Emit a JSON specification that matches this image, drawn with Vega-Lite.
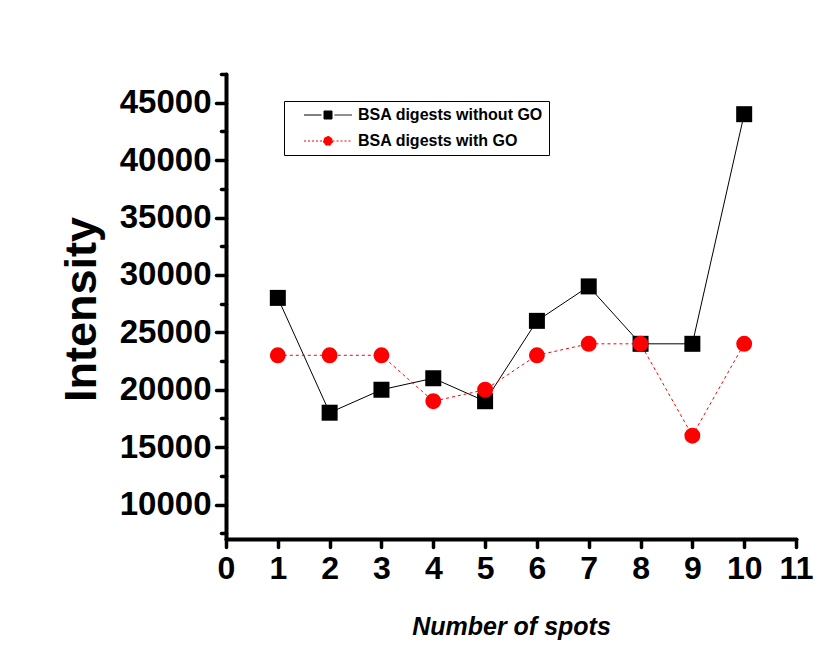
{
  "$schema": "https://vega.github.io/schema/vega-lite/v6.json",
  "autosize": {"type": "none"},
  "width": 570,
  "height": 465,
  "padding": {"left": 226, "top": 74, "right": 34, "bottom": 109},
  "background": "white",
  "config": {
    "view": {"stroke": null},
    "font": "Liberation Sans"
  },
  "data": {
    "values": [
      {"spot": 1, "intensity": 28000, "series": "BSA digests without GO"},
      {"spot": 2, "intensity": 18000, "series": "BSA digests without GO"},
      {"spot": 3, "intensity": 20000, "series": "BSA digests without GO"},
      {"spot": 4, "intensity": 21000, "series": "BSA digests without GO"},
      {"spot": 5, "intensity": 19000, "series": "BSA digests without GO"},
      {"spot": 6, "intensity": 26000, "series": "BSA digests without GO"},
      {"spot": 7, "intensity": 29000, "series": "BSA digests without GO"},
      {"spot": 8, "intensity": 24000, "series": "BSA digests without GO"},
      {"spot": 9, "intensity": 24000, "series": "BSA digests without GO"},
      {"spot": 10, "intensity": 44000, "series": "BSA digests without GO"},
      {"spot": 1, "intensity": 23000, "series": "BSA digests with GO"},
      {"spot": 2, "intensity": 23000, "series": "BSA digests with GO"},
      {"spot": 3, "intensity": 23000, "series": "BSA digests with GO"},
      {"spot": 4, "intensity": 19000, "series": "BSA digests with GO"},
      {"spot": 5, "intensity": 20000, "series": "BSA digests with GO"},
      {"spot": 6, "intensity": 23000, "series": "BSA digests with GO"},
      {"spot": 7, "intensity": 24000, "series": "BSA digests with GO"},
      {"spot": 8, "intensity": 24000, "series": "BSA digests with GO"},
      {"spot": 9, "intensity": 16000, "series": "BSA digests with GO"},
      {"spot": 10, "intensity": 24000, "series": "BSA digests with GO"}
    ]
  },
  "encoding": {
    "x": {
      "field": "spot", "type": "quantitative",
      "scale": {"domain": [0, 11], "nice": false, "zero": false},
      "axis": {
        "values": [0,1,2,3,4,5,6,7,8,9,10,11],
        "grid": false,
        "domainColor": "black", "domainWidth": 4, "domainCap": "round",
        "tickColor": "black", "tickWidth": 3.5, "tickSize": 8, "tickCap": "round",
        "labelFont": "Liberation Sans", "labelFontWeight": "bold", "labelFontSize": 32, "labelColor": "black",
        "labelPadding": 6, "labelFlush": false, "labelOverlap": false,
        "title": "Number of spots",
        "titleFont": "Liberation Sans", "titleFontWeight": "bold", "titleFontStyle": "italic", "titleFontSize": 25, "titleColor": "black",
        "titleX": 285, "titleY": 95, "titleBaseline": "alphabetic", "titleAlign": "center"
      }
    },
    "y": {
      "field": "intensity", "type": "quantitative",
      "scale": {"domain": [7000, 47500], "nice": false, "zero": false},
      "axis": {
        "values": [7500,10000,12500,15000,17500,20000,22500,25000,27500,30000,32500,35000,37500,40000,42500,45000,47500],
        "format": "d",
        "labelExpr": "datum.value % 5000 === 0 ? datum.label : ''",
        "grid": false,
        "domainColor": "black", "domainWidth": 4, "domainCap": "round",
        "tickColor": "black", "tickWidth": 3.5, "tickCap": "round",
        "tickSize": {"condition": {"test": "datum.value % 5000 === 0", "value": 10}, "value": 5},
        "labelFont": "Liberation Sans", "labelFontWeight": "bold", "labelFontSize": 33, "labelColor": "black",
        "labelPadding": 5, "labelFlush": false, "labelOverlap": false,
        "title": "Intensity",
        "titleFont": "Liberation Sans", "titleFontWeight": "bold", "titleFontSize": 45, "titleColor": "black",
        "titleAngle": -90, "titleX": -131, "titleY": 235, "titleBaseline": "alphabetic", "titleAlign": "center"
      }
    }
  },
  "layer": [
    {
      "transform": [{"filter": "datum.series === 'BSA digests without GO'"}],
      "mark": {"type": "line", "color": "black", "strokeWidth": 1}
    },
    {
      "transform": [{"filter": "datum.series === 'BSA digests with GO'"}],
      "mark": {"type": "line", "color": "#ff0000", "strokeWidth": 1, "strokeDash": [3, 3]}
    },
    {
      "transform": [{"filter": "datum.series === 'BSA digests without GO'"}],
      "mark": {"type": "point", "shape": "square", "filled": true, "color": "black", "size": 256, "opacity": 1}
    },
    {
      "transform": [{"filter": "datum.series === 'BSA digests with GO'"}],
      "mark": {"type": "point", "shape": "circle", "filled": true, "color": "#ff0000", "size": 254, "opacity": 1}
    },
    {
      "transform": [{"filter": "datum.spot < 0"}],
      "mark": {"type": "point", "filled": true, "opacity": 1},
      "encoding": {
        "fill": {
          "field": "series", "type": "nominal",
          "scale": {"domain": ["BSA digests without GO", "BSA digests with GO"], "range": ["black", "#ff0000"]},
          "legend": {
            "title": null, "orient": "none", "legendX": 58, "legendY": 27,
            "strokeColor": "black", "fillColor": "white", "padding": 6, "rowPadding": 10,
            "symbolSize": 100, "symbolStrokeWidth": 1, "symbolOffset": 30,
            "labelFont": "Liberation Sans", "labelFontWeight": "bold", "labelFontSize": 16, "labelColor": "black", "labelOffset": 22,
            "labelLimit": 400
          }
        },
        "stroke": {
          "field": "series", "type": "nominal",
          "scale": {"domain": ["BSA digests without GO", "BSA digests with GO"], "range": ["black", "#ff0000"]},
          "legend": {
            "title": null, "orient": "none", "legendX": 58, "legendY": 27,
            "strokeColor": "black", "fillColor": "white", "padding": 6, "rowPadding": 10,
            "symbolSize": 100, "symbolStrokeWidth": 1, "symbolOffset": 30,
            "labelFont": "Liberation Sans", "labelFontWeight": "bold", "labelFontSize": 16, "labelColor": "black", "labelOffset": 22,
            "labelLimit": 400
          }
        },
        "shape": {
          "field": "series", "type": "nominal",
          "scale": {"domain": ["BSA digests without GO", "BSA digests with GO"], "range": ["M-4.8,0H-1.3M1.3,0H4.8M-0.8,-0.8H0.8V0.8H-0.8Z", "M-4.8,0H-0.9M0.9,0H4.8M0.9,0A0.9,0.9 0 1,1 -0.9,0A0.9,0.9 0 1,1 0.9,0Z"]},
          "legend": {
            "title": null, "orient": "none", "legendX": 58, "legendY": 27,
            "strokeColor": "black", "fillColor": "white", "padding": 6, "rowPadding": 10,
            "symbolSize": 100, "symbolStrokeWidth": 1, "symbolOffset": 30,
            "labelFont": "Liberation Sans", "labelFontWeight": "bold", "labelFontSize": 16, "labelColor": "black", "labelOffset": 22,
            "labelLimit": 400
          }
        },
        "strokeDash": {
          "field": "series", "type": "nominal",
          "scale": {"domain": ["BSA digests without GO", "BSA digests with GO"], "range": [[1, 0], [2, 2]]},
          "legend": {
            "title": null, "orient": "none", "legendX": 58, "legendY": 27,
            "strokeColor": "black", "fillColor": "white", "padding": 6, "rowPadding": 10,
            "symbolSize": 100, "symbolStrokeWidth": 1, "symbolOffset": 30,
            "labelFont": "Liberation Sans", "labelFontWeight": "bold", "labelFontSize": 16, "labelColor": "black", "labelOffset": 22,
            "labelLimit": 400
          }
        }
      }
    }
  ]
}
